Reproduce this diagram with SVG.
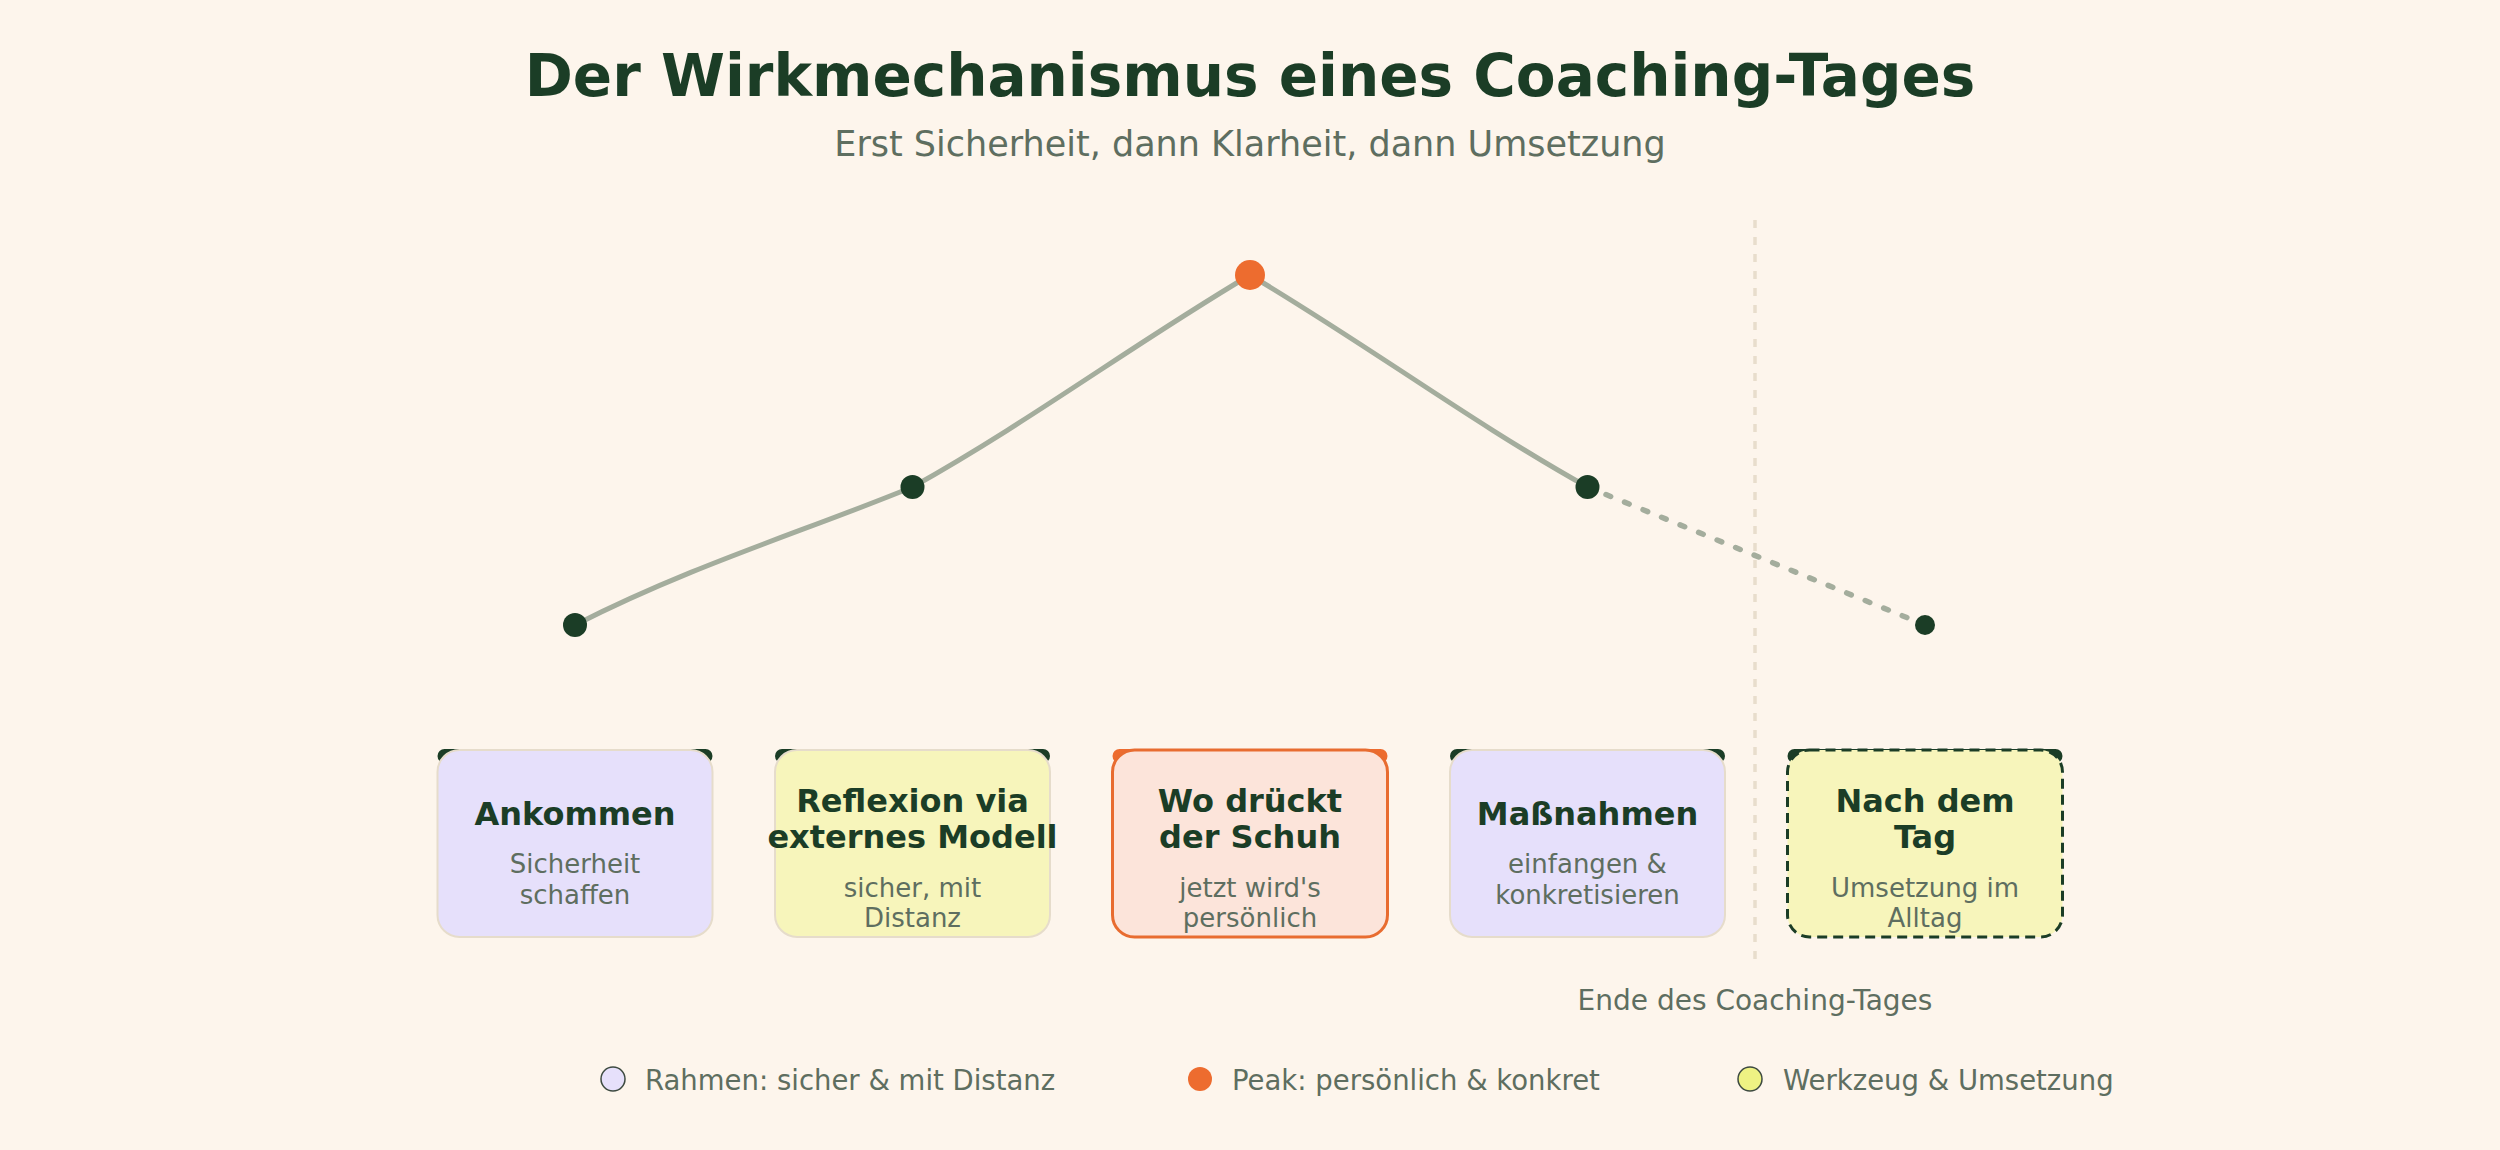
<svg xmlns="http://www.w3.org/2000/svg" width="2500" height="1150" viewBox="0 0 2500 1150">
<style>
text{font-family:"DejaVu Sans","Liberation Sans",sans-serif}
.title{font-size:58px;font-weight:bold;fill:#1b3d26}
.subtitle{font-size:35px;fill:#5e6e60}
.bt{font-size:32px;font-weight:bold;fill:#1b3d26}
.bs{font-size:26px;fill:#5e6e60}
.lg{font-size:27.5px;fill:#5e6e60}
.card{stroke:#e6dccb;stroke-width:2}
.lav{fill:#e6e0fb}
.yel{fill:#f7f5bb}
.acc{fill:#1b3d26}
.dot{fill:#1b3d26}
</style>
<rect width="2500" height="1150" fill="#fdf5ec"/>
<text class="title" x="1250" y="96" text-anchor="middle">Der Wirkmechanismus eines Coaching-Tages</text>
<text class="subtitle" x="1250" y="156" text-anchor="middle">Erst Sicherheit, dann Klarheit, dann Umsetzung</text>

<line x1="1755" y1="220" x2="1755" y2="965" stroke="#e8ddcc" stroke-width="3.5" stroke-dasharray="8 9"/>
<text class="lg" x="1755" y="1010" text-anchor="middle" style="font-size:28px">Ende des Coaching-Tages</text>

<g id="connectors">
<path d="M575 625 C693 565 802.5 532 912.5 487 C1030.5 421 1132 345 1250 275 C1368 345 1469.5 421 1587.5 487" fill="none" stroke="#a4ad9d" stroke-width="5" stroke-linecap="round"/>
<line x1="1587.5" y1="487" x2="1925" y2="625" stroke="#a4ad9d" stroke-width="5.5" stroke-linecap="round" stroke-dasharray="5 15"/>
</g>

<g id="point-1"><circle class="dot" cx="575" cy="625" r="12"/></g>
<g id="point-2"><circle class="dot" cx="912.5" cy="487" r="12"/></g>
<g id="point-3"><circle cx="1250" cy="275" r="15" fill="#ed6c2f"/></g>
<g id="point-4"><circle class="dot" cx="1587.5" cy="487" r="12"/></g>
<g id="point-5"><circle class="dot" cx="1925" cy="625" r="10"/></g>

<g id="node-ankommen">
<rect class="acc" x="437.5" y="749" width="275" height="14" rx="7"/>
<rect class="card lav" x="437.5" y="750" width="275" height="187" rx="22"/>
<text class="bt" x="575" y="825" text-anchor="middle">Ankommen</text>
<text class="bs" x="575" y="873" text-anchor="middle">Sicherheit</text>
<text class="bs" x="575" y="904" text-anchor="middle">schaffen</text>
</g>

<g id="node-reflexion">
<rect class="acc" x="775" y="749" width="275" height="14" rx="7"/>
<rect class="card yel" x="775" y="750" width="275" height="187" rx="22"/>
<text class="bt" x="912.5" y="812" text-anchor="middle">Reflexion via</text>
<text class="bt" x="912.5" y="848" text-anchor="middle">externes Modell</text>
<text class="bs" x="912.5" y="897" text-anchor="middle">sicher, mit</text>
<text class="bs" x="912.5" y="927" text-anchor="middle">Distanz</text>
</g>

<g id="node-schuh">
<rect x="1112.5" y="749" width="275" height="14" rx="7" fill="#ed6c2f"/>
<rect x="1112.5" y="750" width="275" height="187" rx="22" fill="#fce4da" stroke="#e86c30" stroke-width="3"/>
<text class="bt" x="1250" y="812" text-anchor="middle">Wo drückt</text>
<text class="bt" x="1250" y="848" text-anchor="middle">der Schuh</text>
<text class="bs" x="1250" y="897" text-anchor="middle">jetzt wird's</text>
<text class="bs" x="1250" y="927" text-anchor="middle">persönlich</text>
</g>

<g id="node-massnahmen">
<rect class="acc" x="1450" y="749" width="275" height="14" rx="7"/>
<rect class="card lav" x="1450" y="750" width="275" height="187" rx="22"/>
<text class="bt" x="1587.5" y="825" text-anchor="middle">Maßnahmen</text>
<text class="bs" x="1587.5" y="873" text-anchor="middle">einfangen &amp;</text>
<text class="bs" x="1587.5" y="904" text-anchor="middle">konkretisieren</text>
</g>

<g id="node-nach-dem-tag">
<rect class="acc" x="1787.5" y="749" width="275" height="14" rx="7"/>
<rect class="yel" x="1787.5" y="750" width="275" height="187" rx="22" stroke="#1b3d26" stroke-width="3" stroke-dasharray="10 6"/>
<text class="bt" x="1925" y="812" text-anchor="middle">Nach dem</text>
<text class="bt" x="1925" y="848" text-anchor="middle">Tag</text>
<text class="bs" x="1925" y="897" text-anchor="middle">Umsetzung im</text>
<text class="bs" x="1925" y="927" text-anchor="middle">Alltag</text>
</g>

<g id="legend">
<circle cx="613" cy="1079" r="12" fill="#e6e0fb" stroke="#3d4a40" stroke-width="1.5"/>
<text class="lg" x="645" y="1090">Rahmen: sicher &amp; mit Distanz</text>
<circle cx="1200" cy="1079" r="12" fill="#ed6c2f"/>
<text class="lg" x="1232" y="1090">Peak: persönlich &amp; konkret</text>
<circle cx="1750" cy="1079" r="12" fill="#eef283" stroke="#3d4a40" stroke-width="1.5"/>
<text class="lg" x="1783" y="1090">Werkzeug &amp; Umsetzung</text>
</g>
</svg>
